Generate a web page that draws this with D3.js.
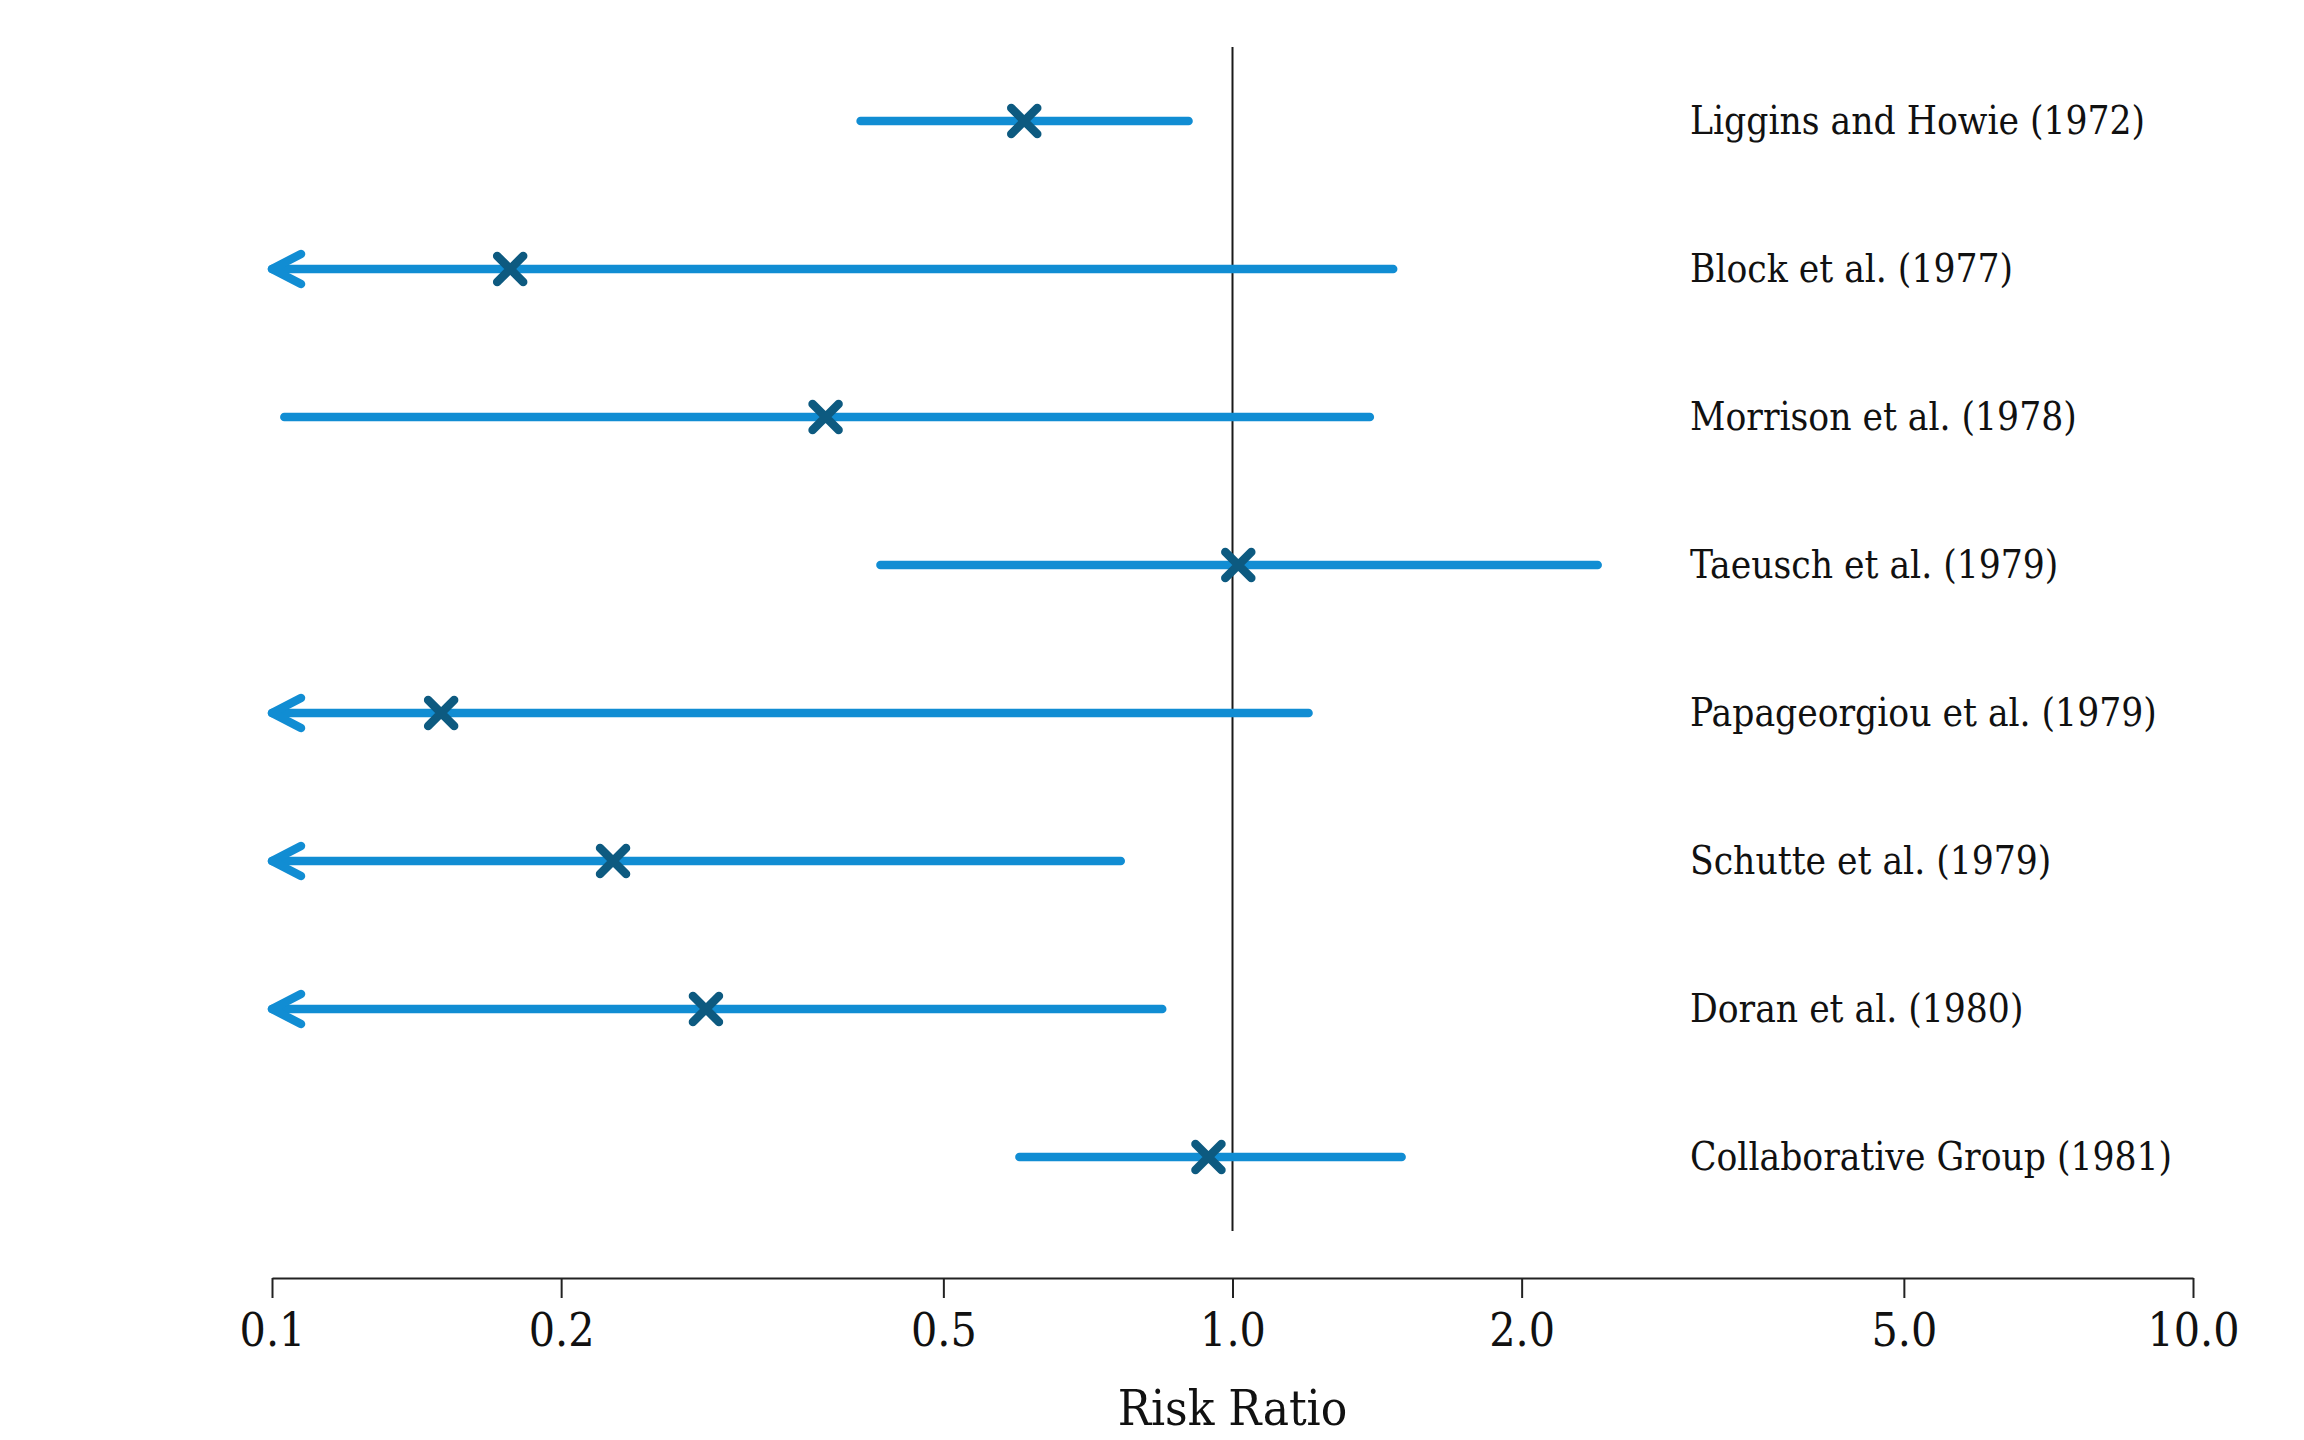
<!DOCTYPE html>
<html>
<head>
<meta charset="utf-8">
<script src="https://cdn.jsdelivr.net/npm/d3@7"></script>
<style>
  html, body { margin: 0; padding: 0; background: #fff; }
  svg { display: block; }
  text { font-family: "DejaVu Serif Condensed", "DejaVu Serif", serif; font-stretch: condensed; fill: #111; }
</style>
</head>
<body>
<svg id="chart" width="2304" height="1440"></svg>
<script>
// ---- data ----
const studies = [
  "Liggins and Howie (1972)",
  "Block et al. (1977)",
  "Morrison et al. (1978)",
  "Taeusch et al. (1979)",
  "Papageorgiou et al. (1979)",
  "Schutte et al. (1979)",
  "Doran et al. (1980)",
  "Collaborative Group (1981)"
];
// risk ratio point estimates
const estimates = [0.607, 0.177, 0.377, 1.014, 0.150, 0.2265, 0.283, 0.944];
// lower confidence limits (values below 0.1 fall off the axis and are drawn as arrows)
const lowers = [0.41, 0.05, 0.103, 0.43, 0.04, 0.06, 0.07, 0.60];
// upper confidence limits
const uppers = [0.90, 1.47, 1.39, 2.40, 1.20, 0.765, 0.845, 1.50];
const tickValues = [0.1, 0.2, 0.5, 1.0, 2.0, 5.0, 10.0];
const axisTitle = "Risk Ratio";

// ---- layout ----
const svg = d3.select("#chart");
const xMin = 0.1, xMax = 10;
const x = d3.scaleLog().domain([xMin, xMax]).range([272, 2193]);
const y = d3.scaleBand().domain(studies).range([47, 1231]);
const yc = d => y(d) + y.bandwidth() / 2;
const axisY = 1278;

const lineColor = "#118dd3";
const markColor = "#0d5a80";

const rows = studies.map((s, i) => ({ s, est: estimates[i], lo: lowers[i], hi: uppers[i] }));

// reference line at RR = 1
svg.append("line")
  .attr("x1", x(1)).attr("x2", x(1))
  .attr("y1", y.range()[0]).attr("y2", y.range()[1])
  .attr("stroke", "#1a1a1a").attr("stroke-width", 2);

// confidence interval lines
const g = svg.append("g");
g.selectAll("line.ci").data(rows).join("line")
  .attr("class", "ci")
  .attr("x1", d => x(Math.max(d.lo, xMin)))
  .attr("x2", d => x(d.hi))
  .attr("y1", d => yc(d.s)).attr("y2", d => yc(d.s))
  .attr("stroke", lineColor).attr("stroke-width", 8.5)
  .attr("stroke-linecap", "round");

// arrows for truncated lower limits
g.selectAll("path.arrow").data(rows.filter(d => d.lo < xMin)).join("path")
  .attr("class", "arrow")
  .attr("transform", d => `translate(${x(xMin)},${yc(d.s)})`)
  .attr("d", "M29,-15L0,0L29,15")
  .attr("fill", "none").attr("stroke", lineColor).attr("stroke-width", 8.5)
  .attr("stroke-linecap", "round").attr("stroke-linejoin", "round");

// point estimate markers (X)
const r = 13;
g.selectAll("path.mark").data(rows).join("path")
  .attr("class", "mark")
  .attr("transform", d => `translate(${x(d.est)},${yc(d.s)})`)
  .attr("d", `M${-r},${-r}L${r},${r}M${-r},${r}L${r},${-r}`)
  .attr("fill", "none").attr("stroke", markColor).attr("stroke-width", 8.5)
  .attr("stroke-linecap", "round");

// study labels
svg.append("g").selectAll("text").data(studies).join("text")
  .attr("x", 1690).attr("y", d => yc(d))
  .attr("dy", "0.33em")
  .attr("font-size", 38.5)
  .text(d => d);

// x axis
const axis = d3.axisBottom(x)
  .tickValues(tickValues)
  .tickFormat(d3.format(".1f"))
  .tickSize(20).tickSizeOuter(0).tickPadding(15);
const ag = svg.append("g").attr("transform", `translate(0,${axisY})`).call(axis);
ag.select(".domain").attr("stroke", "#222").attr("stroke-width", 2);
ag.selectAll(".tick line").attr("stroke", "#222").attr("stroke-width", 2);
ag.selectAll(".tick text")
  .attr("font-family", null).attr("font-size", 46).style("fill", "#111");

// axis title
svg.append("text")
  .attr("x", x(1)).attr("y", 1425)
  .attr("text-anchor", "middle")
  .attr("font-size", 49)
  .text(axisTitle);
</script>
</body>
</html>
